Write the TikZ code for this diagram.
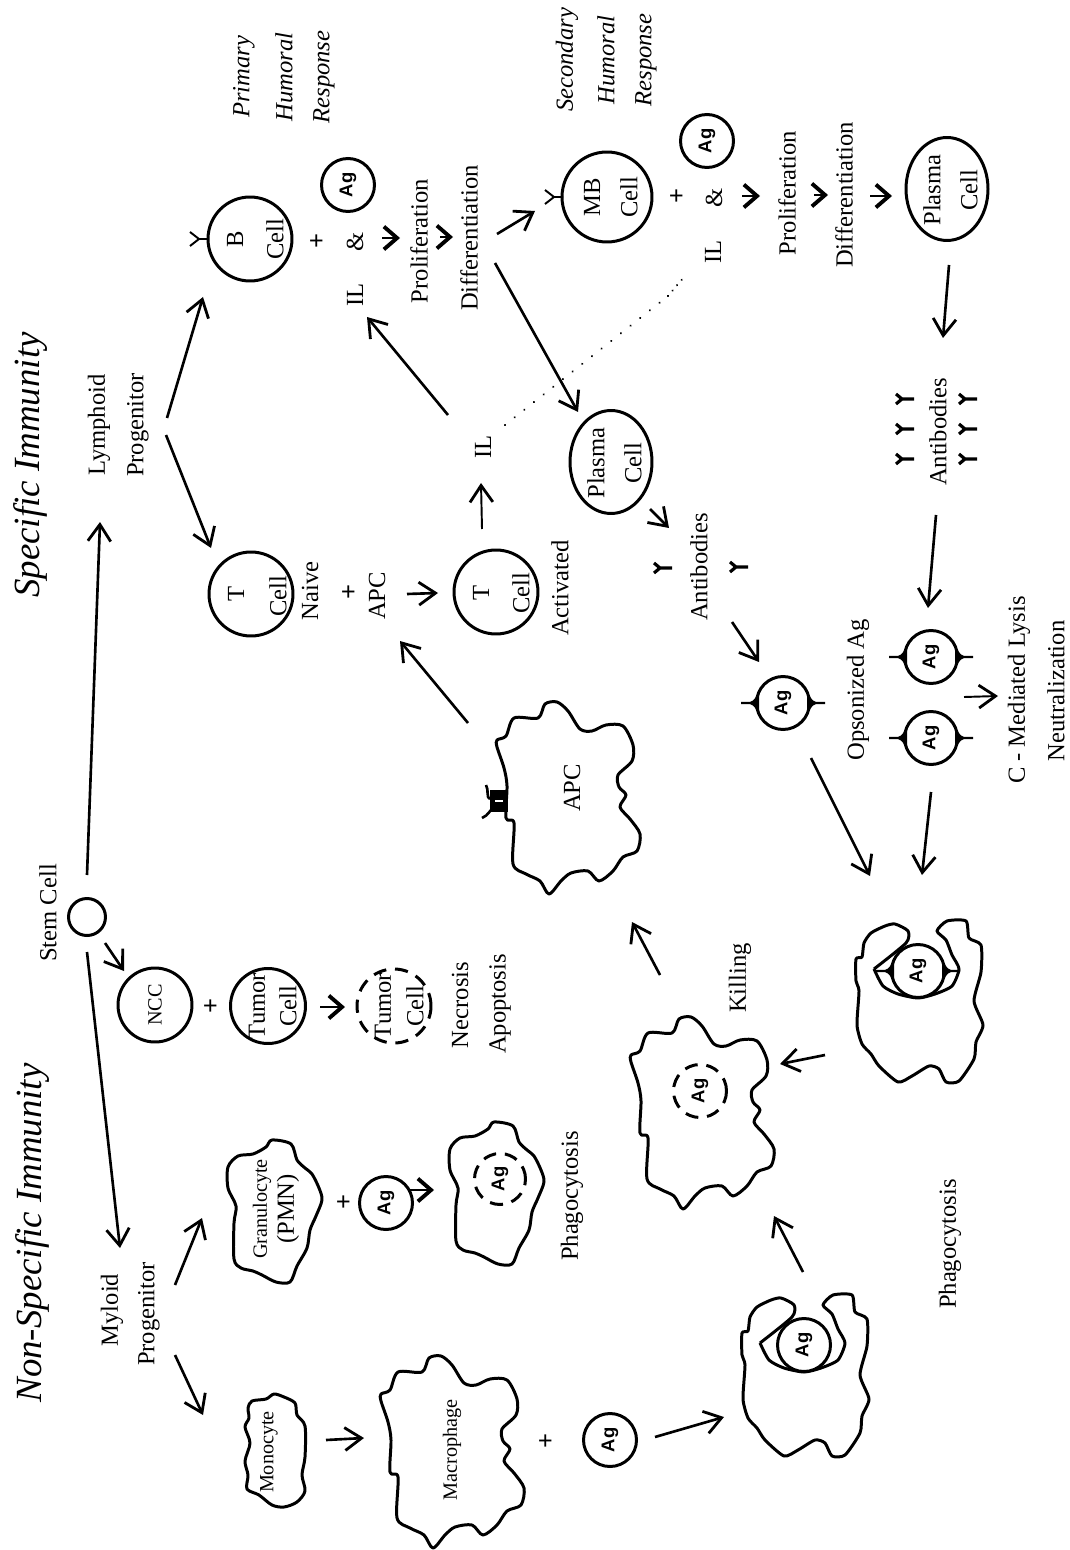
\documentclass[tikz,border=0pt]{standalone}
\usepackage{fontspec}
\setmainfont{Liberation Serif}
\setsansfont{Liberation Sans}
\usepackage{tikz}
\usetikzlibrary{arrows.meta,shapes.geometric}

\begin{document}
\begin{tikzpicture}[
  x=0.02cm, y=-0.02cm,
  txt/.style={rotate=90, inner sep=0pt, font=\fontsize{14}{16}\selectfont},
  small/.style={rotate=90, inner sep=0pt, font=\fontsize{11.5}{13}\selectfont},
  resp/.style={rotate=90, inner sep=0pt, font=\fontsize{14}{16}\selectfont\itshape},
  title/.style={rotate=90, inner sep=0pt, font=\fontsize{21}{24}\selectfont\itshape},
  plus/.style={rotate=90, inner sep=0pt, font=\fontsize{15}{16}\selectfont\bfseries},
  cellring/.style={circle, draw, line width=1.7pt, inner sep=0pt, minimum size=#1},
  agcell/.style={circle, draw, fill=white, line width=1.7pt, inner sep=0pt, minimum size=1.06cm,
    font=\fontsize{10.5}{12}\selectfont\sffamily\bfseries, text depth=0pt},
  agdead/.style={agcell, draw=none, fill=none},
  deadring/.style={circle, draw, line width=1.7pt, dash pattern=on 7.5pt off 5pt, inner sep=0pt, minimum size=#1},
  plasmacell/.style={ellipse, draw, line width=1.7pt, inner sep=0pt, minimum width=1.64cm, minimum height=2.06cm},
  arrow/.style={-{Straight Barb[length=9.5pt,width=13pt,line width=1.6pt]}, line width=1.5pt},
  boldarrow/.style={-{Straight Barb[length=7.5pt,width=13pt,line width=2.2pt]}, line width=1.6pt},
  dotline/.style={line width=1.3pt, line cap=round, dash pattern=on 0.01pt off 7pt},
  outline/.style={line width=1.7pt, line join=round},
  % cell outlines, drawn round their own centre
  macroblob/.pic={
    \draw[outline] plot[smooth cycle, tension=0.5] coordinates {
      (-69,-56) (-60,-60) (-52,-78) (-28,-78) (-21,-92) (-9,-94) (2,-85) (14,-67)
      (26,-65) (40,-71) (57,-70) (67,-51) (66,-35) (52,-21) (53,-9) (60,-1) (54,11)
      (64,23) (74,38) (71,55) (57,61) (47,75) (33,85) (22,75) (5,77) (-5,85) (-17,98)
      (-26,85) (-40,78) (-53,68) (-52,27) (-60,22) (-59,-10) (-62,-28) (-69,-49)};
  },
  granblob/.pic={
    \draw[outline] plot[smooth cycle, tension=0.5] coordinates {
      (-47,-45) (-37,-56) (-22,-58) (-9,-65) (-3,-72) (16,-68) (22,-52) (30,-44)
      (37,-38) (44,-24) (47,-12) (41,4) (35,18) (32,36) (22,54) (15,70) (1,70)
      (-13,63) (-22,59) (-34,56) (-41,47) (-41,11) (-39,-6) (-47,-24)};
  },
  engulfblob/.pic={
    \draw[outline] plot[smooth, tension=0.4] coordinates {
      (-44,-2) (-12,-28) (-10,-40) (-23,-47) (-33,-45) (-47,-38) (-54,-28) (-56,-14) (-62,-12)
      (-62,10) (-59,20) (-61,54) (-56,73) (-47,83) (-39,95) (-20,111) (-6,105) (11,95)
      (21,98) (28,111) (41,110) (56,88) (58,71) (65,54) (56,30) (63,1) (63,-26) (51,-33)
      (48,-50) (29,-50) (19,-40) (28,-31) (34,-16) (41,-2) (34,15) (17,23) (0,27)
      (-20,23) (-35,15) (-44,-2)};
  },
  wings/.pic={
    \fill (-42,-1.1) -- (-33,-1.1) .. controls (-29,-2) and (-27,-6) .. (-24,-12)
      -- (-24,12) .. controls (-27,6) and (-29,2) .. (-33,1.1) -- (-42,1.1) -- cycle;
    \fill (42,-1.1) -- (33,-1.1) .. controls (29,-2) and (27,-6) .. (24,-12)
      -- (24,12) .. controls (27,6) and (29,2) .. (33,1.1) -- (42,1.1) -- cycle;
  },
  receptor/.pic={
    \draw[line width=1.1pt] (-9,-7) -- (0,0) -- (-9,7) (0,0) -- (9,0);
  },
  antibody/.pic={
    \draw[line width=1.8pt] (-8,-5) -- (-2,0) -- (-8,5) (-2,0) -- (10,0);
  }
]
\useasboundingbox (0,0) rectangle (1070,1550);

% headings
\node (nonspecific) [title] at (32,1233) {Non-Specific Immunity};
\node (specific) [title] at (30,465) {Specific Immunity};
\node (primary) [resp] at (244,77) {Primary};
\node (humoralA) [resp] at (284,77) {Humoral};
\node (responseA) [resp] at (324,77) {Response};
\node (secondary) [resp] at (567,60) {Secondary};
\node (humoralB) [resp] at (606,60) {Humoral};
\node (responseB) [resp] at (646,60) {Response};

% stem cell and progenitors
\node (stemlabel) [txt] at (48,913) {Stem Cell};
\node (stem) [cellring=0.74cm] at (87,917) {};
\node (myloid) [txt] at (112,1310) {Myloid};
\node (myprog) [txt] at (149,1314) {Progenitor};
\node (lymphoid) [txt] at (99,425) {Lymphoid};
\node (lyprog) [txt] at (138,425) {Progenitor};

% B cell branch
\node (bcell) [cellring=1.68cm] at (250,239) {};
\node (bcellB) [txt] at (235,239) {B};
\node (bcellC) [txt] at (275,239) {Cell};
\pic at (199,239) {receptor};
\node (bplus) [plus] at (318,241) {+};
\node (agB) [agcell] at (348,185) {\rotatebox{90}{Ag}};
\node (andB) [txt] at (355,242) {\&};
\node (ilB) [txt] at (355,295) {IL};
\node (prolB) [txt] at (419,241) {Proliferation};
\node (diffB) [txt] at (469,238) {Differentiation};

% memory B cell branch
\node (mbcell) [cellring=1.8cm] at (607,197) {};
\node (mbcellB) [txt] at (592,197) {MB};
\node (mbcellC) [txt] at (629,197) {Cell};
\pic at (554,197) {receptor};
\node (mbplus) [plus] at (678,196) {+};
\node (agM) [agcell] at (707,141) {\rotatebox{90}{Ag}};
\node (andM) [txt] at (714,198) {\&};
\node (ilM) [txt] at (713,252) {IL};
\node (prolM) [txt] at (787,193) {Proliferation};
\node (diffM) [txt] at (844,195) {Differentiation};
\node (plasmaM) [plasmacell] at (947,189) {};
\node (plasmaMa) [txt] at (932,190) {Plasma};
\node (plasmaMb) [txt] at (969,190) {Cell};
\node (abM) [txt] at (938,432) {Antibodies};
\pic at (904,399) {antibody};
\pic at (904,429) {antibody};
\pic at (904,459) {antibody};
\pic at (967,399) {antibody};
\pic at (967,429) {antibody};
\pic at (967,459) {antibody};

% T cell branch
\node (tnaive) [cellring=1.68cm] at (251,594) {};
\node (tnaiveT) [txt] at (236,594) {T};
\node (tnaiveC) [txt] at (278,596) {Cell};
\node (naive) [txt] at (310,591) {Naive};
\node (tplus) [plus] at (350,592) {+};
\node (apclabel) [txt] at (377,596) {APC};
\node (tact) [cellring=1.68cm] at (496,592) {};
\node (tactT) [txt] at (481,593) {T};
\node (tactC) [txt] at (521,593) {Cell};
\node (activated) [txt] at (560,588) {Activated};
\node (ilT) [txt] at (483,447) {IL};

% primary plasma cell
\node (plasmaB) [plasmacell] at (611,462) {};
\node (plasmaBa) [txt] at (596,463) {Plasma};
\node (plasmaBb) [txt] at (633,463) {Cell};
\node (abB) [txt] at (699,567) {Antibodies};
\pic at (662,568) {antibody};
\pic at (738,567) {antibody};

% opsonized antigen
\node (agO) [agcell] at (783,703) {\rotatebox{90}{Ag}};
\pic at (783,703) {wings};
\node (opsonized) [txt] at (858,690) {Opsonized Ag};
\node (agP) [agcell] at (931,657) {\rotatebox{90}{Ag}};
\pic at (931,657) {wings};
\node (agQ) [agcell] at (931,738) {\rotatebox{90}{Ag}};
\pic at (931,738) {wings};
\node (lysis) [txt] at (1019,690) {C - Mediated Lysis};
\node (neutral) [txt] at (1056,691) {Neutralization};

% NCC row
\node (ncc) [cellring=1.48cm] at (155,1005) {};
\node (ncctext) [small] at (155,1005) {NCC};
\node (nplus) [plus] at (212,1006) {+};
\node (tumor) [cellring=1.5cm] at (268,1006) {};
\node (tumorA) [txt] at (257,1006) {Tumor};
\node (tumorB) [txt] at (288,1006) {Cell};
\node (tumordead) [deadring=1.48cm] at (394,1006) {};
\node (tumordeadA) [txt] at (383,1006) {Tumor};
\node (tumordeadB) [txt] at (415,1006) {Cell};
\node (necrosis) [txt] at (460,1005) {Necrosis};
\node (apoptosis) [txt] at (500,1004) {Apoptosis};

% granulocyte row
\pic at (275,1212) {granblob};
\node (granA) [small] at (262,1209) {Granulocyte};
\node (granB) [txt] at (288,1209) {(PMN)};
\node (gplus) [plus] at (345,1202) {+};
\node (agG) [agcell] at (386,1203) {\rotatebox{90}{Ag}};
\pic at (497,1194) {granblob};
\node (agGdead) [deadring=1.02cm] at (500,1179) {};
\node (agGtext) [agdead] at (500,1179) {\rotatebox{90}{Ag}};
\node (phagA) [txt] at (572,1196) {Phagocytosis};

% macrophage row
\draw[outline] plot[smooth cycle, tension=0.5] coordinates {
  (248,1408) (252,1401) (266,1399) (274,1394) (284,1397) (295,1403) (297,1415)
  (305,1426) (305,1457) (302,1475) (305,1491) (297,1502) (284,1507) (272,1505)
  (259,1495) (247,1489) (248,1475) (245,1461) (250,1443) (245,1427) (249,1418)};
\node (monocyte) [small] at (269,1452) {Monocyte};
\pic at (450,1450) {macroblob};
\node (macrophage) [small] at (452,1450) {Macrophage};
\node (mplus) [plus] at (547,1441) {+};
\node (agX) [agcell] at (610,1440) {\rotatebox{90}{Ag}};

% phagocytosis sequence
\pic at (804,1345) {engulfblob};
\node (agE) [agcell] at (804,1345) {\rotatebox{90}{Ag}};
\pic at (700,1111) {macroblob};
\node (agKdead) [deadring=1.06cm] at (700,1091) {};
\node (agKtext) [agdead] at (700,1091) {\rotatebox{90}{Ag}};
\node (killing) [txt] at (740,978) {Killing};
\pic at (918,971) {engulfblob};
\node (agF) [agcell] at (918,971) {\rotatebox{90}{Ag}};
\pic at (918,971) {wings};
\node (phagB) [txt] at (950,1244) {Phagocytosis};

% antigen presenting cell with its receptor
\pic at (566,796) {macroblob};
\node (apc) [txt] at (572,788) {APC};
\fill (490,790) rectangle (508,812);
\draw[white, line width=0.6pt] (495,801) -- (503,801);
\draw[line width=1.5pt] (490,799) .. controls (486,798) and (489,790) .. (486,785);
\draw[line width=1.5pt] (491,810) .. controls (487,815) and (485,817) .. (482,818);

% free ends of the connectors
\coordinate (stemUp) at (87,875);
\coordinate (stemDown) at (87,952);
\coordinate (stemNcc) at (105,943);
\coordinate (nccIn) at (124,971);
\coordinate (lyprogIn) at (100,522);
\coordinate (myloidIn) at (120,1248);
\coordinate (myprogUp) at (175,1285);
\coordinate (granIn) at (202,1218);
\coordinate (myprogDown) at (175,1355);
\coordinate (monoIn) at (203,1415);
\coordinate (monoOut) at (326,1440);
\coordinate (macroIn) at (364,1438);
\coordinate (lyprogUp) at (167,418);
\coordinate (bcellIn) at (203,297);
\coordinate (lyprogDown) at (166,435);
\coordinate (tnaiveIn) at (211,548);
\coordinate (plusOut) at (407,594);
\coordinate (tactIn) at (438,593);
\coordinate (tactOut) at (482,529);
\coordinate (ilTin) at (481,483);
\coordinate (ilTout) at (448,415);
\coordinate (ilBin) at (367,317);
\coordinate (diffOutA) at (497,234);
\coordinate (mbcellIn) at (535,211);
\coordinate (diffOutB) at (495,263);
\coordinate (plasmaBin) at (578,412);
\coordinate (plasmaMout) at (949,265);
\coordinate (abMin) at (943,338);
\coordinate (abMout) at (936,515);
\coordinate (agPin) at (928,608);
\coordinate (plasmaBout) at (650,509);
\coordinate (abBin) at (669,528);
\coordinate (abBout) at (732,622);
\coordinate (agOin) at (759,662);
\coordinate (agOout) at (811,758);
\coordinate (phagBinA) at (870,876);
\coordinate (agQout) at (931,792);
\coordinate (phagBinB) at (922,875);
\coordinate (lysisOut) at (964,697);
\coordinate (lysisIn) at (998,696);
\coordinate (agXout) at (655,1437);
\coordinate (engulfIn) at (724,1417);
\coordinate (engulfOut) at (803,1272);
\coordinate (killIn) at (774,1216);
\coordinate (phagBout) at (825,1055);
\coordinate (killBin) at (780,1064);
\coordinate (killOut) at (660,975);
\coordinate (apcIn) at (632,922);
\coordinate (apcOut) at (468,723);
\coordinate (apclabelIn) at (400,641);
\coordinate (ilDots) at (505,425);
\coordinate (ilDotsEnd) at (668,296);
\coordinate (ilMnear) at (684,277);

% connectors
\draw[arrow] (stemUp) -- (lyprogIn);
\draw[arrow] (stemDown) -- (myloidIn);
\draw[arrow] (stemNcc) -- (nccIn);
\draw[arrow] (myprogUp) -- (granIn);
\draw[arrow] (myprogDown) -- (monoIn);
\draw[arrow] (monoOut) -- (macroIn);
\draw[arrow] (lyprogUp) -- (bcellIn);
\draw[arrow] (lyprogDown) -- (tnaiveIn);
\draw[arrow] (plusOut) -- (tactIn);
\draw[arrow, line width=1.1pt] (tactOut) -- (ilTin);
\draw[arrow] (ilTout) -- (ilBin);
\draw[arrow] (diffOutA) -- (mbcellIn);
\draw[arrow] (diffOutB) -- (plasmaBin);
\draw[arrow] (plasmaMout) -- (abMin);
\draw[arrow] (abMout) -- (agPin);
\draw[arrow] (plasmaBout) -- (abBin);
\draw[arrow] (abBout) -- (agOin);
\draw[arrow] (agOout) -- (phagBinA);
\draw[arrow] (agQout) -- (phagBinB);
\draw[arrow, line width=1.1pt] (lysisOut) -- (lysisIn);
\draw[arrow] (agXout) -- (engulfIn);
\draw[arrow] (engulfOut) -- (killIn);
\draw[arrow] (phagBout) -- (killBin);
\draw[arrow] (killOut) -- (apcIn);
\draw[arrow] (apcOut) -- (apclabelIn);
\draw[dotline] (ilDots) -- (ilDotsEnd);
\draw[dotline, dash pattern=on 0.01pt off 4pt] (ilDotsEnd) -- (ilMnear);

% short heavy arrows between the reaction steps
\coordinate (tumorOut) at (320,1007);
\coordinate (tumorIn) at (345,1007);
\coordinate (granOut) at (410,1190);
\coordinate (granArr) at (434,1190);
\coordinate (bA) at (382,238);
\coordinate (bB) at (400,238);
\coordinate (bC) at (440,237);
\coordinate (bD) at (453,237);
\coordinate (mA) at (742,196);
\coordinate (mB) at (760,196);
\coordinate (mC) at (814,195);
\coordinate (mD) at (828,195);
\coordinate (mE) at (870,196);
\coordinate (mF) at (892,196);
\draw[boldarrow] (tumorOut) -- (tumorIn);
\draw[boldarrow] (granOut) -- (granArr);
\draw[boldarrow] (bA) -- (bB);
\draw[boldarrow] (bC) -- (bD);
\draw[boldarrow] (mA) -- (mB);
\draw[boldarrow] (mC) -- (mD);
\draw[boldarrow] (mE) -- (mF);
\end{tikzpicture}
\end{document}
